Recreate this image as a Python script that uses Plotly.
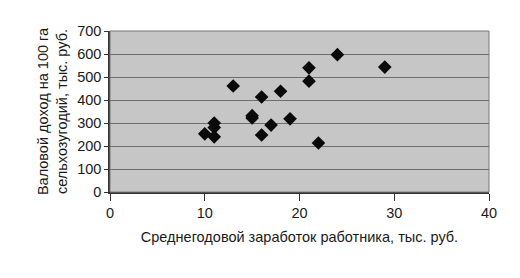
import plotly.graph_objects as go

salary = [10, 11, 11, 11, 13, 15, 15, 16, 16, 17, 18, 19, 21, 21, 22, 24, 29]
income = [253, 300, 280, 240, 461, 332, 322, 413, 248, 291, 438, 318, 540, 482, 213, 597, 543]

x_title = "Среднегодовой заработок работника, тыс. руб."
y_title = "Валовой доход на 100 га<br>сельхозугодий, тыс. руб."

fig = go.Figure()
fig.add_trace(go.Scatter(
    x=salary, y=income, mode="markers",
    marker=dict(symbol="diamond", size=10.5, color="#0a0a0a"),
    showlegend=False,
))

fig.update_layout(
    width=520, height=278,
    margin=dict(l=110, r=31, t=31, b=86),
    paper_bgcolor="white",
    plot_bgcolor="#c6c6c6",
    font=dict(family="Liberation Sans, Arial", size=14.5, color="#1a1a1a"),
    xaxis=dict(
        range=[0, 40], dtick=10, showgrid=False, zeroline=False,
        showline=True, linecolor="#333", linewidth=1.5, mirror=False,
        ticks="outside", ticklen=7, tickcolor="#333",
        tickfont=dict(size=14.5),
        title=dict(text=x_title, font=dict(size=14.5), standoff=12),
    ),
    yaxis=dict(
        range=[0, 700], dtick=100, showgrid=True, gridcolor="#6e6e6e", gridwidth=1,
        zeroline=False, showline=True, linecolor="#333", linewidth=1.5,
        ticks="outside", ticklen=4, tickcolor="#333",
        tickfont=dict(size=14.5),
        title=dict(text=y_title, font=dict(size=14.5), standoff=6),
    ),
)
fig.add_shape(type="rect", xref="paper", yref="paper", x0=0, y0=0, x1=1, y1=1,
              line=dict(color="#777", width=1), layer="above")

fig.write_html("out.html")
